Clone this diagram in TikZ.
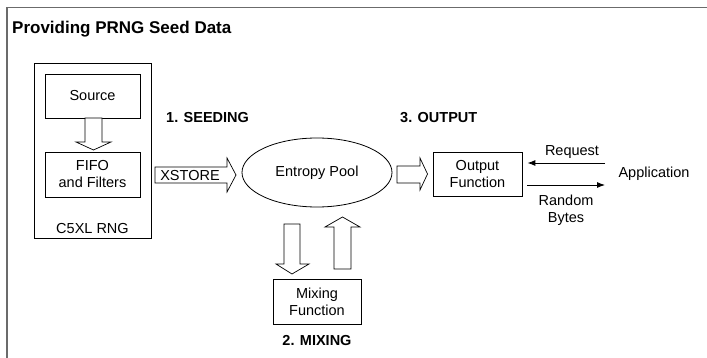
\documentclass[tikz,border=0pt]{standalone}
\usepackage{fontspec}
\setmainfont{Liberation Sans}
\usetikzlibrary{arrows.meta}
\begin{document}
\begin{tikzpicture}[x=1pt,y=-1pt,
  txt/.style={font=\fontsize{14.5}{17}\selectfont, inner sep=0pt, align=center},
  lbl/.style={font=\fontsize{14.5}{17}\selectfont\bfseries, inner sep=0pt},
  box/.style={draw=black, line width=0.8pt, inner sep=0pt, align=center, font=\fontsize{14.5}{17}\selectfont},
  hollow/.style={draw=black, fill=white, line width=0.7pt, line join=miter},
  thinarrow/.style={draw=black, line width=0.9pt, -{Latex[length=8pt,width=6pt]}},
  frame/.style={draw=black!58, line width=1.6pt}]
\useasboundingbox (0,0) rectangle (707,358);
\fill[white] (0,0) rectangle (707,358);
% frame
\coordinate (f1) at (7,358);
\coordinate (f2) at (7,7.5);
\coordinate (f3) at (707,7.5);
\draw[frame] (f1) -- (f2) -- (f3);
% title
\node[anchor=base west, inner sep=0pt, font=\fontsize{17}{20}\selectfont\bfseries] (title) at (12,34) {Providing PRNG Seed Data};
% C5XL RNG block
\node[box, minimum width=117pt, minimum height=175pt] (rng) at (92.5,150.5) {};
\node[box, minimum width=95pt, minimum height=44pt] (src) at (92.5,96) {Source};
\node[box, minimum width=95pt, minimum height=45pt] (fifo) at (92.5,174.5) {FIFO\\and Filters};
\node[txt] (rnglbl) at (92.5,229) {C5XL RNG};
% source -> fifo hollow arrow
\draw[hollow] (85,118) -- (102,118) -- (102,142) -- (111,142) -- (93.5,150) -- (76,142) -- (85,142) -- cycle;
% XSTORE arrow
\draw[hollow] (155,167) -- (227,167) -- (227,158) -- (236,175) -- (227,192) -- (227,183) -- (155,183) -- cycle;
\node[txt] (xstore) at (190,175.5) {XSTORE};
% entropy pool
\draw[line width=0.8pt] (317,172.5) ellipse [x radius=75, y radius=34.5];
\node[txt] (pool) at (317,172.5) {Entropy Pool};
% output hollow arrow
\draw[hollow] (397,166) -- (420,166) -- (420,158) -- (427.5,174) -- (420,190) -- (420,183) -- (397,183) -- cycle;
% output function
\node[box, minimum width=89pt, minimum height=44pt] (out) at (477.5,174) {Output\\Function};
% application
\node[txt] (app) at (654,174) {Application};
\coordinate (reqA) at (605,163);
\coordinate (rndA) at (605,185);
\draw[thinarrow] (reqA) -- ([xshift=5pt]out.east |- reqA);
\draw[thinarrow] ([xshift=5pt]out.east |- rndA) -- (rndA);
\node[txt] (req) at (572,152) {Request};
\node[txt] (rnd) at (566,210.5) {Random\\Bytes};
% mixing arrows
\draw[hollow] (284,224) -- (300,224) -- (300,264) -- (309,264) -- (292,274) -- (276,264) -- (284,264) -- cycle;
\draw[hollow] (334,269) -- (351,269) -- (351,227) -- (360,227) -- (342.5,217) -- (325,227) -- (334,227) -- cycle;
\node[box, minimum width=88pt, minimum height=45pt] (mix) at (317,301.5) {Mixing\\Function};
% stage labels
\node[lbl, anchor=west] (seed) at (166,118) {1. SEEDING};
\node[lbl, anchor=west] (outp) at (400,118) {3. OUTPUT};
\node[lbl] (mixl) at (317,341) {2. MIXING};
\end{tikzpicture}
\end{document}
